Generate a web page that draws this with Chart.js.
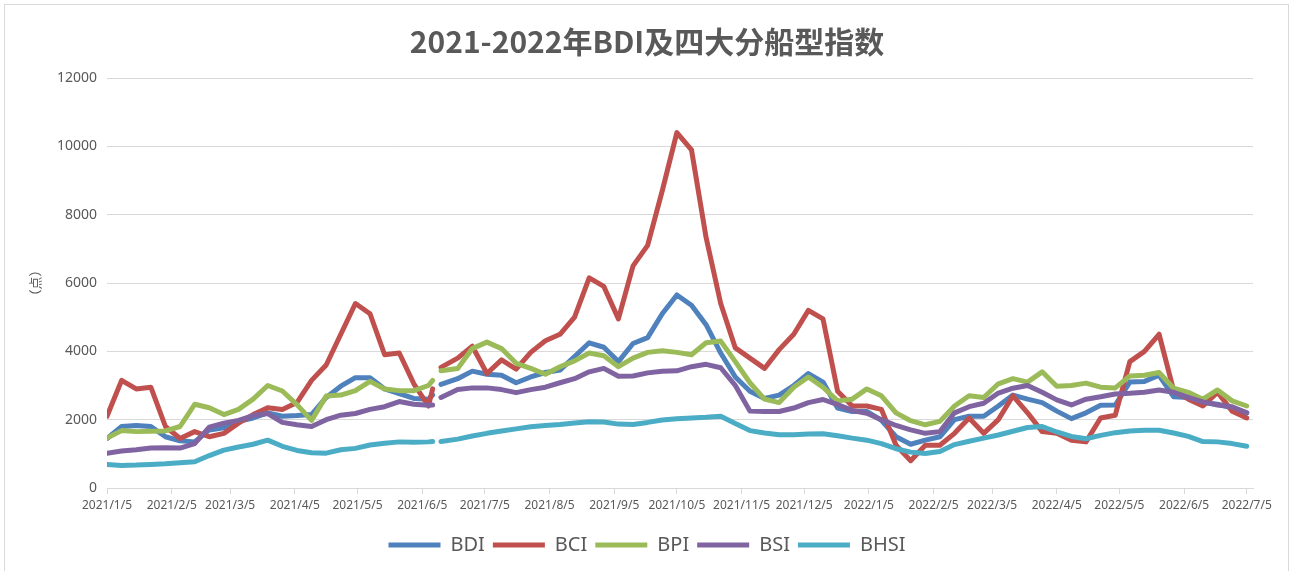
<!DOCTYPE html>
<html lang="zh">
<head>
<meta charset="utf-8">
<title>2021-2022年BDI及四大分船型指数</title>
<script src="https://cdn.jsdelivr.net/npm/chart.js@4.4.1/dist/chart.umd.min.js"></script>
<style>
  html, body { margin: 0; padding: 0; background: #fff; }
  #wrap { position: relative; width: 1294px; height: 571px; overflow: hidden; }
  #frame { position: absolute; left: 4px; top: 4px; width: 1283px; height: 580px; border: 1px solid #d9d9d9; }
  #chart { position: absolute; left: 0; top: 0; }
</style>
</head>
<body>
<div id="wrap">
  <div id="frame"></div>
  <canvas id="chart" width="1294" height="571"></canvas>
</div>
<script>
// sample dates (weekly, plus the days around the June 2021 gap)
const dates = [
  '2021/1/5','2021/1/12','2021/1/19','2021/1/26','2021/2/2','2021/2/9','2021/2/16','2021/2/23',
  '2021/3/2','2021/3/9','2021/3/16','2021/3/23','2021/3/30','2021/4/6','2021/4/13','2021/4/20',
  '2021/4/27','2021/5/4','2021/5/11','2021/5/18','2021/5/25','2021/6/1','2021/6/8','2021/6/10',
  '2021/6/12','2021/6/14','2021/6/22','2021/6/29','2021/7/6','2021/7/13','2021/7/20','2021/7/27',
  '2021/8/3','2021/8/10','2021/8/17','2021/8/24','2021/8/31','2021/9/7','2021/9/14','2021/9/21',
  '2021/9/28','2021/10/5','2021/10/12','2021/10/19','2021/10/26','2021/11/2','2021/11/9','2021/11/16',
  '2021/11/23','2021/11/30','2021/12/7','2021/12/14','2021/12/21','2021/12/28','2022/1/4','2022/1/11',
  '2022/1/18','2022/1/25','2022/2/1','2022/2/8','2022/2/15','2022/2/22','2022/3/1','2022/3/8',
  '2022/3/15','2022/3/22','2022/3/29','2022/4/5','2022/4/12','2022/4/19','2022/4/26','2022/5/3',
  '2022/5/10','2022/5/17','2022/5/24','2022/5/31','2022/6/7','2022/6/14','2022/6/21','2022/6/28',
  '2022/7/5'
];

const bdi = [
  1450,1800,1830,1800,1500,1380,1350,1700,1760,1950,2050,2200,2100,2120,2150,2650,
  2980,3230,3230,2900,2760,2620,2600,2720,null,3030,3200,3420,3330,3300,3080,3250,
  3380,3450,3850,4250,4120,3700,4230,4400,5100,5650,5350,4780,3950,3250,2830,2620,
  2720,3000,3350,3100,2340,2240,2240,1980,1500,1280,1400,1500,2000,2100,2100,2400,
  2720,2600,2500,2250,2030,2200,2420,2430,3100,3120,3300,2670,2650,2500,2450,2350,
  2200
];
const bci = [
  2100,3150,2900,2950,1800,1450,1650,1500,1600,1900,2150,2350,2300,2500,3150,3600,
  4500,5400,5100,3900,3950,3050,2400,2900,null,3530,3800,4150,3350,3750,3480,3970,
  4310,4500,5000,6150,5900,4950,6500,7100,8700,10400,9900,7330,5400,4100,3800,3500,
  4050,4500,5200,4950,2830,2400,2400,2300,1250,800,1250,1250,1600,2050,1600,2000,
  2700,2200,1650,1600,1400,1350,2050,2130,3700,4000,4500,2850,2600,2400,2800,2250,
  2050
];
const bpi = [
  1460,1680,1650,1660,1670,1800,2450,2350,2150,2300,2600,3000,2840,2440,1980,2690,
  2720,2850,3120,2900,2850,2850,3000,3150,null,3430,3500,4080,4270,4080,3650,3500,
  3330,3550,3720,3950,3870,3550,3800,3970,4020,3970,3900,4250,4300,3700,3080,2600,
  2500,2950,3250,2950,2550,2600,2900,2700,2200,1970,1850,1950,2400,2700,2650,3050,
  3200,3100,3400,2980,3000,3070,2950,2930,3280,3300,3380,2920,2800,2600,2870,2550,
  2400
];
const bsi = [
  1020,1080,1120,1170,1180,1170,1300,1780,1900,1980,2120,2180,1920,1850,1800,2000,
  2130,2180,2300,2380,2530,2450,2420,2430,null,2650,2880,2930,2930,2880,2790,2880,
  2950,3080,3200,3400,3500,3270,3280,3370,3420,3430,3550,3620,3520,3000,2250,2240,
  2240,2340,2500,2590,2440,2270,2190,2000,1830,1700,1600,1650,2200,2380,2480,2780,
  2920,3000,2800,2580,2430,2600,2670,2750,2770,2800,2870,2800,2650,2520,2430,2380,
  2200
];
const bhsi = [
  690,660,670,690,710,740,770,950,1110,1200,1280,1400,1220,1100,1030,1020,
  1120,1160,1260,1310,1350,1340,1350,1360,null,1360,1430,1520,1600,1670,1730,1790,
  1830,1860,1900,1940,1930,1870,1860,1920,1990,2030,2050,2070,2100,1890,1680,1610,
  1560,1560,1580,1590,1530,1460,1400,1300,1150,1050,1010,1070,1270,1370,1460,1550,
  1660,1770,1800,1640,1510,1440,1540,1620,1670,1690,1690,1610,1510,1360,1350,1300,
  1220
];

const seriesNames = ['BDI', 'BCI', 'BPI', 'BSI', 'BHSI'];
const tickLabels = [
  '2021/1/5','2021/2/5','2021/3/5','2021/4/5','2021/5/5','2021/6/5','2021/7/5',
  '2021/8/5','2021/9/5','2021/10/5','2021/11/5','2021/12/5','2022/1/5','2022/2/5',
  '2022/3/5','2022/4/5','2022/5/5','2022/6/5','2022/7/5'
];

const colors = ['#4f81bd', '#c0504d', '#9bbb59', '#8064a2', '#4bacc6'];

// dates -> days since the first date, so the x axis is a real time line
const startDay = Date.UTC(2021, 0, 5);
function dayOf(s) {
    const [y, m, d] = s.split('/').map(Number);
    return (Date.UTC(y, m - 1, d) - startDay) / 86400000;
}
const xs = dates.map(dayOf);
const tickDays = tickLabels.map(dayOf);

function toPoints(values) {
    return values.map((v, i) => ({ x: xs[i], y: v }));
}

Chart.defaults.font.family = "'Noto Sans', sans-serif";

const ctx = document.getElementById('chart').getContext('2d');
new Chart(ctx, {
    type: 'line',
    data: {
        datasets: [bdi, bci, bpi, bsi, bhsi].map((vals, i) => ({
            label: seriesNames[i],
            data: toPoints(vals),
            borderColor: colors[i],
            backgroundColor: colors[i],
            borderWidth: 5,
            borderCapStyle: 'round',
            borderJoinStyle: 'round',
            pointRadius: 0,
            pointHoverRadius: 0,
            tension: 0,
            spanGaps: false,
            order: 5 - i   // later series on top, like the original
        }))
    },
    options: {
        responsive: false,
        animation: false,
        devicePixelRatio: 1,
        layout: { padding: { left: 0, right: 0, top: 4, bottom: 6 } },
        plugins: {
            title: {
                display: true,
                text: '2021-2022年BDI及四大分船型指数',
                color: '#595959',
                font: { family: "'Noto Sans CJK SC', sans-serif", size: 30, weight: 'bold' },
                padding: { top: 20, bottom: 18 }
            },
            legend: {
                position: 'bottom',
                labels: {
                    usePointStyle: true,
                    pointStyle: 'line',
                    pointStyleWidth: 52,
                    color: '#595959',
                    font: { size: 20 },
                    padding: 8,
                    sort: (a, b) => a.datasetIndex - b.datasetIndex
                }
            },
            tooltip: { enabled: false }
        },
        scales: {
            x: {
                type: 'linear',
                min: 0,
                max: 549,
                afterBuildTicks: scale => {
                    scale.ticks = tickDays.map(v => ({ value: v }));
                },
                afterFit: scale => { scale.height = 39; },
                ticks: {
                    autoSkip: false,
                    maxRotation: 0,
                    color: '#595959',
                    font: { size: 12 },
                    padding: 4,
                    callback: value => tickLabels[tickDays.indexOf(value)]
                },
                grid: {
                    drawOnChartArea: false,
                    drawTicks: true,
                    tickLength: 6,
                    color: '#d9d9d9'
                },
                border: { display: true, color: '#d9d9d9', width: 1 }
            },
            y: {
                min: 0,
                max: 12000,
                afterFit: scale => { scale.width = 107; },
                ticks: {
                    stepSize: 2000,
                    color: '#595959',
                    font: { size: 14 },
                    padding: 10,
                    callback: value => String(value)
                },
                grid: { color: '#d9d9d9', drawTicks: false },
                border: { display: false },
                title: {
                    display: true,
                    text: '（点）',
                    color: '#595959',
                    font: { family: "'Noto Sans CJK SC', sans-serif", size: 13 },
                    padding: { top: 27, bottom: 0 }
                }
            },
            // empty right-hand strip so the plot ends where the original does
            yRight: {
                position: 'right',
                min: 0,
                max: 12000,
                afterFit: scale => { scale.width = 41; },
                ticks: { display: false },
                grid: { display: false },
                border: { display: false }
            }
        }
    }
});
</script>
</body>
</html>
